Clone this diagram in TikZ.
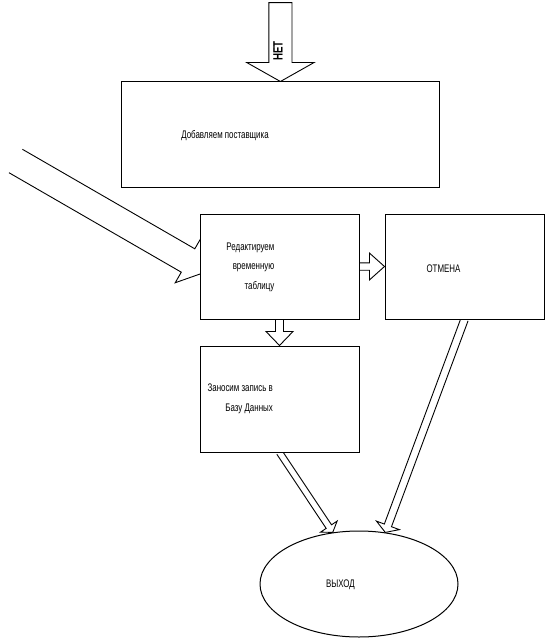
\documentclass[tikz,border=0pt]{standalone}
\usepackage{fontspec}
\setmainfont{Liberation Sans}[FakeStretch=0.72]
\usetikzlibrary{calc,backgrounds,shapes.geometric}

\tikzset{
	box/.style={draw, fill=white, line width=1pt, inner sep=0pt},
	oval/.style={draw, fill=white, ellipse, line width=1pt, inner sep=0pt},
	caption/.style={inner sep=0pt, font=\fontsize{11}{19.5}\selectfont, align=right},
	shaft/.style={line width=0.9pt, line join=miter}
}

% #2 from, #3 to, #4 half shaft, #5 half head, #6 head length
\newcommand{\blockarrow}[6][]{%
	\coordinate (ba-base) at ($(#3)!#6!(#2)$);
	\draw [shaft] ($(#2)!#4!90:(#3)$) -- ($(ba-base)!#4!90:(#3)$)
	-- ($(ba-base)!#5!90:(#3)$) -- (#3) -- ($(ba-base)!#5!-90:(#3)$)
	-- ($(ba-base)!#4!-90:(#3)$) -- ($(#2)!#4!-90:(#3)$) #1;
}

\begin{document}
\begin{tikzpicture}[x=1pt,y=-1pt]

\def\boxW{159}
\def\boxH{105}

\useasboundingbox (0,0) rectangle (546,639);

% boxes
\node [box, minimum width=318, minimum height=\boxH] (add) at (280.4,134.5) {};
\node [box, minimum width=\boxW, minimum height=\boxH] (edit) at (279.5,266.5) {};
\node [box, minimum width=\boxW, minimum height=\boxH] (cancel) at (464.5,266.5) {};
\node [box, minimum width=\boxW, minimum height=106] (save) at (279.5,399) {};
\node [oval, minimum width=198, minimum height=106] (exit) at (359,584) {};

% texts
\node [caption] (addtext) at ($(add)+(-55.4,1.5)$) {Добавляем поставщика};
\node [caption, anchor=east] (edittext) at ($(edit)+(-5,0.5)$) {Редактируем\\временную\\таблицу};
\node [caption] (canceltext) at ($(cancel)+(-21,2)$) {ОТМЕНА};
\node [caption, anchor=east] (savetext) at ($(save)+(-6.5,0)$) {Заносим запись в\\Базу Данных};
\node [caption] (exittext) at ($(exit)+(-18.5,1)$) {ВЫХОД};

% free ends
\coordinate (top) at (280.4,2.7);
\coordinate (feed) at (15.7,161);
\coordinate (feedtip) at ($(edit.west)+(7.6,5)$);

\begin{scope}[on background layer]
	\blockarrow[-- cycle]{top}{add.north}{11.6pt}{33.7pt}{19pt}
	\blockarrow{feed}{feedtip}{13.5pt}{25.7pt}{22pt}
	\blockarrow{edit.east}{cancel.west}{3.7pt}{13.4pt}{15pt}
	\blockarrow{edit.south}{save.north}{4pt}{13.5pt}{14pt}
	\blockarrow{save.south}{exit.117}{3.2pt}{10pt}{7pt}
	\blockarrow{cancel.south}{exit.63}{3.8pt}{12.2pt}{7.5pt}
\end{scope}

% label on the top arrow
\node [inner sep=0pt, rotate=90, font=\bfseries\fontsize{13.5}{14}\selectfont] (nolabel) at (278,51) {НЕТ};

\end{tikzpicture}
\end{document}
